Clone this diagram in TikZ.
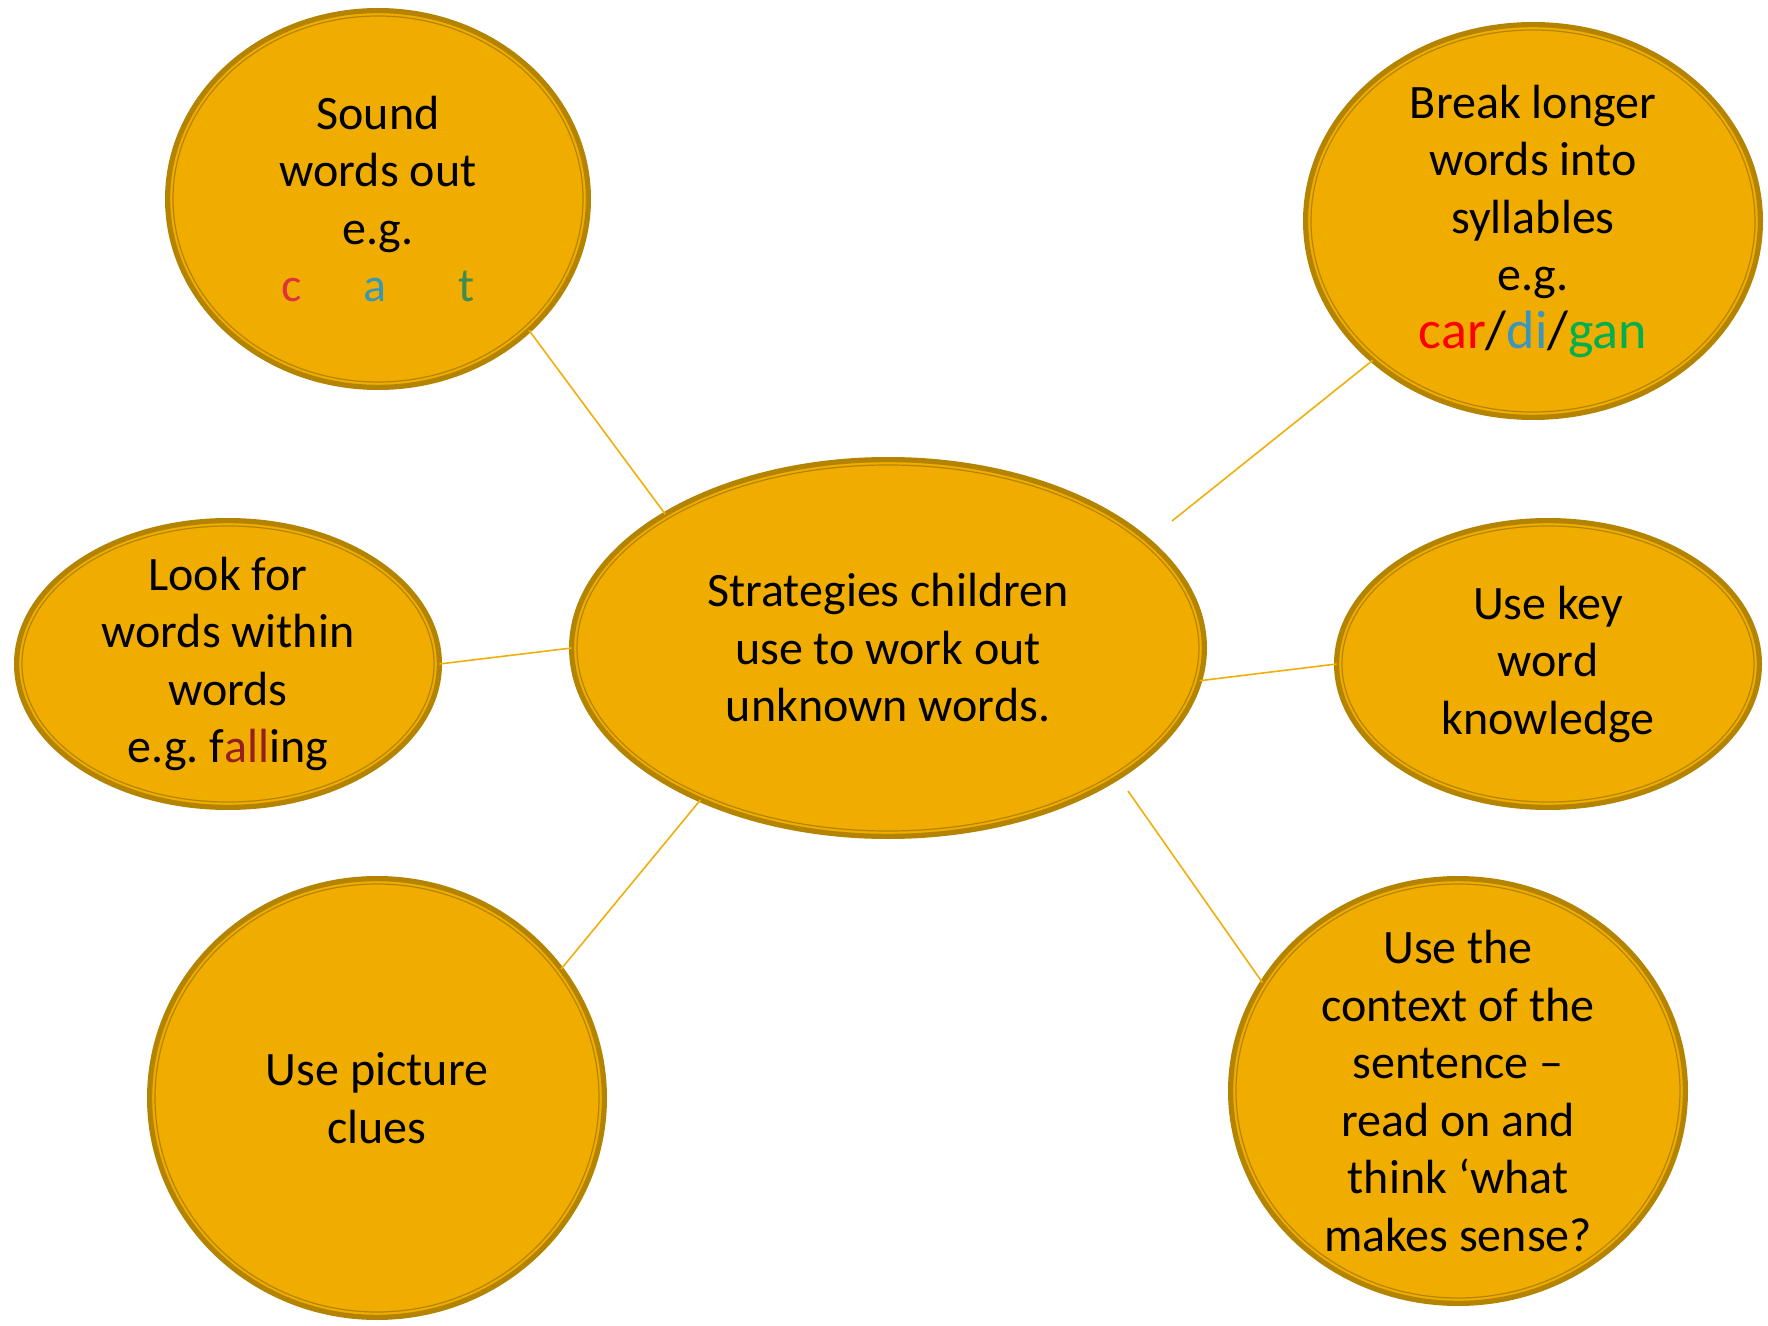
\documentclass[tikz,border=0pt]{standalone}
\usepackage{fontspec}
\setmainfont{Carlito}
\frenchspacing
\usetikzlibrary{shapes.geometric}
\definecolor{bfill}{RGB}{240,173,0}
\definecolor{bring}{RGB}{180,132,0}
\definecolor{bline}{RGB}{240,174,10}
\definecolor{cred}{RGB}{222,50,60}
\definecolor{cblue}{RGB}{58,152,180}
\definecolor{cgreen}{RGB}{62,140,80}
\definecolor{sred}{RGB}{255,0,0}
\definecolor{sblue}{RGB}{58,150,190}
\definecolor{sgreen}{RGB}{0,176,80}
\definecolor{dred}{RGB}{150,30,35}
\tikzset{
  bubblebox/.style={ellipse, draw=bring, fill=bfill, line width=2.6pt, inner sep=0pt, outer sep=0pt},
  innerring/.style={draw=bring, line width=0.6pt},
  btext/.style={align=center, font=\fontsize{24}{28.75}\selectfont, text=black, inner sep=0pt},
  conn/.style={draw=bline, line width=0.8pt}
}
\newcommand{\mybubble}[6]{%
  \node[bubblebox, minimum width={(#4-2.6)*1pt}, minimum height={(#5-2.6)*1pt}] (#1) at (#2,#3) {};
  \draw[innerring] (#1.center) ellipse [x radius={#4-8}, y radius={#5-8}];
  \node[btext] (#1-t) at (#1.center) {#6};
}
\begin{document}
\begin{tikzpicture}[x=0.5pt,y=-0.5pt]
\useasboundingbox (0,0) rectangle (1768,1326);
\mybubble{snd}{378}{199}{213}{191}{Sound\\words out\\e.g.\\{\color{cred}c}\hspace{31pt}{\color{cblue}a}\hspace{36pt}{\color{cgreen}t}}
\mybubble{brk}{1533}{221}{230}{199}{Break longer\\words into\\syllables\\e.g.\\{\fontsize{27}{28.75}\selectfont{\color{sred}car}/{\color{sblue}di}/{\color{sgreen}gan}}}
\mybubble{ctr}{888}{648}{319}{191}{Strategies children\\use to work out\\unknown words.}
\mybubble{look}{228}{664}{214}{146}{Look for\\words within\\words\\e.g. f{\color{dred}all}ing}
\mybubble{key}{1548}{664}{214}{146}{Use key\\word\\knowledge}
\mybubble{pic}{377}{1098}{230}{222}{Use picture\\clues}
\mybubble{ctx}{1458}{1091}{230}{215}{Use the\\context of the\\sentence --\\read on and\\think ‘what\\makes sense?}
\coordinate (brkend) at (1172,521);
\coordinate (ctxend) at (1128,791);
\draw[conn] (snd.-41.8) -- (ctr.149);
\draw[conn] (brk.-139.1) -- (brkend);
\draw[conn] (look.0.3) -- (ctr.180);
\draw[conn] (key.180) -- (ctr.-6.5);
\draw[conn] (pic.35.4) -- (ctr.-141);
\draw[conn] (ctx.151.6) -- (ctxend);
\end{tikzpicture}
\end{document}
